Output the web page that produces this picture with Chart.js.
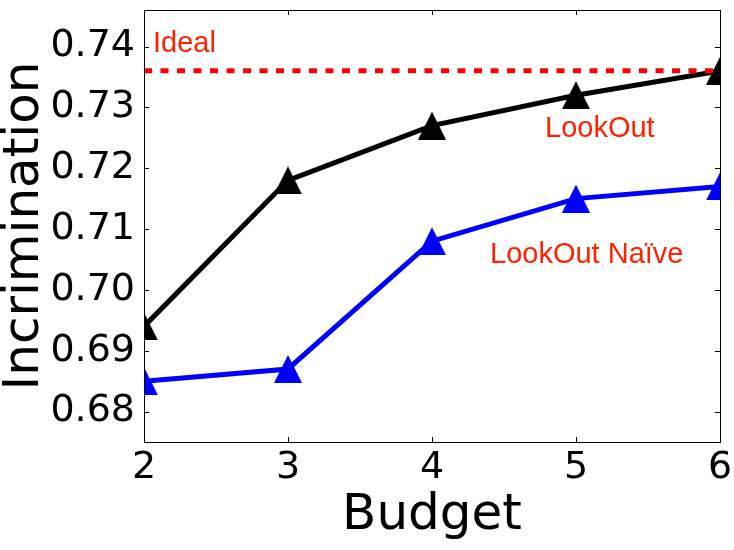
<!DOCTYPE html>
<html>
<head>
<meta charset="utf-8">
<script src="https://cdn.jsdelivr.net/npm/chart.js@4"></script>
<style>
  html, body { margin: 0; padding: 0; background: #fff; }
  #wrap { width: 734px; height: 550px; }
</style>
</head>
<body>
<div id="wrap"><canvas id="chart"></canvas></div>
<script>
const budgets = [2, 3, 4, 5, 6];
const lookout = [0.694, 0.718, 0.727, 0.732, 0.736];
const lookoutNaive = [0.685, 0.687, 0.708, 0.715, 0.717];
const ideal = [0.736, 0.736, 0.736, 0.736, 0.736];
const yTicks = [0.68, 0.69, 0.70, 0.71, 0.72, 0.73, 0.74];
const xTicks = [2, 3, 4, 5, 6];

// matplotlib style '^' marker (as wide as it is tall)
function triangleMarker(colour, size) {
    const c = document.createElement("canvas");
    c.width = size;
    c.height = size;
    const g = c.getContext("2d");
    g.fillStyle = colour;
    g.beginPath();
    g.moveTo(size / 2, 0);
    g.lineTo(size, size);
    g.lineTo(0, size);
    g.closePath();
    g.fill();
    return c;
}

function toPoints(values) {
    return budgets.map((b, i) => ({x: b, y: values[i]}));
}

// box around the axes + inward tick marks on all four sides
const boxPlugin = {
    id: "box",
    afterDatasetsDraw(chart) {
        const {ctx, chartArea: a, scales} = chart;
        ctx.save();
        ctx.strokeStyle = "#000";
        ctx.lineWidth = 1;
        const len = 5;
        ctx.beginPath();
        yTicks.forEach(v => {
            const y = Math.round(scales.y.getPixelForValue(v)) + 0.5;
            ctx.moveTo(a.left, y); ctx.lineTo(a.left + len, y);
            ctx.moveTo(a.right, y); ctx.lineTo(a.right - len, y);
        });
        xTicks.forEach(v => {
            const x = Math.round(scales.x.getPixelForValue(v)) + 0.5;
            ctx.moveTo(x, a.bottom); ctx.lineTo(x, a.bottom - len);
            ctx.moveTo(x, a.top); ctx.lineTo(x, a.top + len);
        });
        ctx.stroke();
        ctx.strokeRect(a.left + 0.5, a.top + 0.5, a.right - a.left, a.bottom - a.top);

        // series labels
        ctx.fillStyle = "#ff2200";
        ctx.font = "29px 'Liberation Sans', Arial, sans-serif";
        ctx.textBaseline = "alphabetic";
        ctx.textAlign = "left";
        const label = (t, x, y) => ctx.fillText(t, scales.x.getPixelForValue(x), scales.y.getPixelForValue(y));
        label("Ideal", 2.0625, 0.7391);
        label("LookOut", 4.785, 0.7251);
        label("LookOut Naïve", 4.403, 0.7044);
        ctx.restore();
    }
};

const ctx = document.getElementById("chart");
new Chart(ctx, {
    type: "line",
    data: {
        datasets: [{
            label: "Ideal",
            data: toPoints(ideal),
            borderColor: "#ff0000",
            borderWidth: 5,
            borderDash: [8, 8.5],
            borderCapStyle: "butt",
            pointRadius: 0,
            clip: 0,
            order: 0
        }, {
            label: "LookOut",
            data: toPoints(lookout),
            borderColor: "#000000",
            borderWidth: 5,
            pointStyle: triangleMarker("#000000", 28),
            pointRadius: 14,
            clip: 0,
            order: 1
        }, {
            label: "LookOut Naïve",
            data: toPoints(lookoutNaive),
            borderColor: "#0000ff",
            borderWidth: 5,
            pointStyle: triangleMarker("#0000ff", 28),
            pointRadius: 14,
            clip: 0,
            order: 2
        }]
    },
    options: {
        responsive: true,
        maintainAspectRatio: false,
        animation: false,
        layout: {
            autoPadding: false,
            padding: {top: 10, right: 14, bottom: 0, left: 0}
        },
        plugins: {
            legend: {display: false},
            tooltip: {enabled: false}
        },
        scales: {
            x: {
                type: "linear",
                min: 2,
                max: 6,
                afterBuildTicks: scale => { scale.ticks = xTicks.map(v => ({value: v})); },
                afterFit: scale => {
                    scale.height = 108;
                    scale.paddingLeft = 0;
                    scale.paddingRight = 0;
                },
                grid: {display: false, drawTicks: false},
                border: {display: false},
                ticks: {
                    color: "#000",
                    padding: 3,
                    autoSkip: false,
                    maxRotation: 0,
                    font: {family: "'DejaVu Sans'", size: 38},
                    callback: v => String(v)
                },
                title: {
                    display: true,
                    text: "Budget",
                    color: "#000",
                    padding: {top: 0, bottom: 9},
                    font: {family: "'DejaVu Sans'", size: 50, lineHeight: 1}
                }
            },
            y: {
                min: 0.675,
                max: 0.746,
                afterBuildTicks: scale => { scale.ticks = yTicks.map(v => ({value: v})); },
                afterFit: scale => {
                    scale.width = 144;
                    scale.paddingTop = 0;
                    scale.paddingBottom = 0;
                },
                grid: {display: false, drawTicks: false},
                border: {display: false},
                ticks: {
                    color: "#000",
                    padding: 9,
                    autoSkip: false,
                    font: {family: "'DejaVu Sans'", size: 38},
                    callback: v => v.toFixed(2)
                },
                title: {
                    display: true,
                    text: "Incrimination",
                    color: "#000",
                    padding: {top: 0, bottom: 0},
                    font: {family: "'DejaVu Sans'", size: 50, lineHeight: 1}
                }
            }
        }
    },
    plugins: [boxPlugin]
});
</script>
</body>
</html>
